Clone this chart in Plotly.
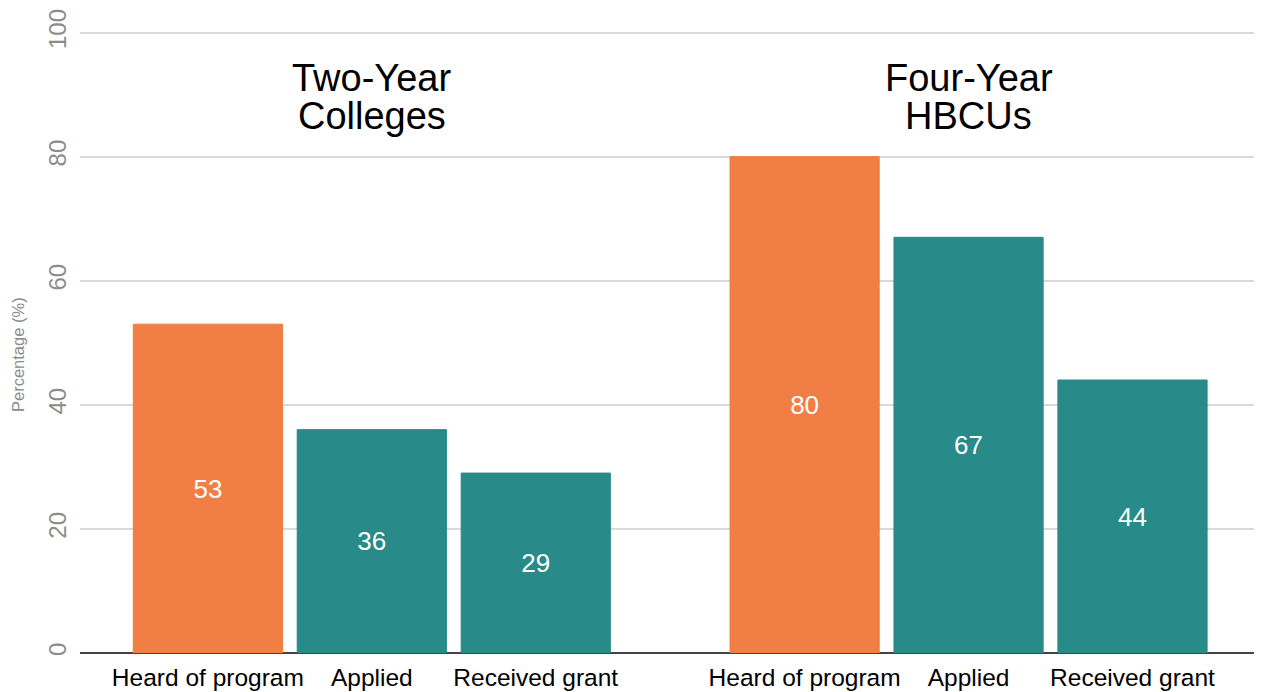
import plotly.graph_objects as go

# ---- data ----
group_titles = [["Two-Year", "Colleges"], ["Four-Year", "HBCUs"]]
categories = ["Heard of program", "Applied", "Received grant"]
two_year_values = [53, 36, 29]
four_year_values = [80, 67, 44]
y_ticks = [0, 20, 40, 60, 80, 100]

ORANGE = "#F07E45"
TEAL = "#288A89"
FONT = "Liberation Sans, Arial, sans-serif"

group_values = [two_year_values, four_year_values]
group_step = 3.64  # spacing between group starts (in category slots)

xs, ys, cols, ticktext = [], [], [], []
for g, vals in enumerate(group_values):
    for i, v in enumerate(vals):
        xs.append(g * group_step + i)
        ys.append(v)
        cols.append(ORANGE if i == 0 else TEAL)
        ticktext.append(categories[i])

fig = go.Figure()
fig.add_trace(go.Bar(
    x=xs, y=ys, width=0.91,
    marker=dict(color=cols, line=dict(color=cols, width=1)),
    text=[str(v) for v in ys], textposition="inside",
    insidetextanchor="middle",
    textfont=dict(color="white", size=26, family=FONT),
    hoverinfo="skip",
))

annotations = []
for g, lines in enumerate(group_titles):
    cx = g * group_step + 1
    for k, line in enumerate(lines):
        annotations.append(dict(
            x=cx, y=[92.6, 86.5][k], xref="x", yref="y", text=line,
            showarrow=False, yanchor="middle", xanchor="center",
            font=dict(size=38, color="black", family=FONT),
        ))

L, R, T, B = 72, 8, 23, 47
W, H = 1262, 692
pw, ph = W - L - R, H - T - B
annotations.append(dict(
    x=(10 - L) / pw, y=(645 - 347) / ph, xref="paper", yref="paper",
    text="Percentage (%)", showarrow=False, textangle=-90,
    xanchor="center", yanchor="middle",
    font=dict(size=16.5, color="#8c8c8c", family=FONT),
))

fig.update_layout(
    width=W, height=H,
    margin=dict(l=L, r=R, t=T, b=B, autoexpand=False),
    paper_bgcolor="white", plot_bgcolor="white",
    showlegend=False,
    annotations=annotations,
    font=dict(family=FONT),
)
fig.update_xaxes(
    range=[-0.78, group_step + 2 + 0.79],
    tickvals=xs, ticktext=ticktext, showgrid=False, zeroline=False,
    ticks="", tickfont=dict(size=24.5, color="black", family=FONT),
    showline=False, ticklabelstandoff=7, automargin=False,
)
fig.update_yaxes(
    range=[0, 100.25], tickvals=y_ticks, tickangle=-90,
    tickfont=dict(size=24, color="#8c8c8c", family=FONT),
    gridcolor="#d9d9d9", gridwidth=1.5,
    zeroline=True, zerolinecolor="#444444", zerolinewidth=2,
    ticks="", ticklabelstandoff=8, automargin=False,
)
fig.write_html("out.html")
